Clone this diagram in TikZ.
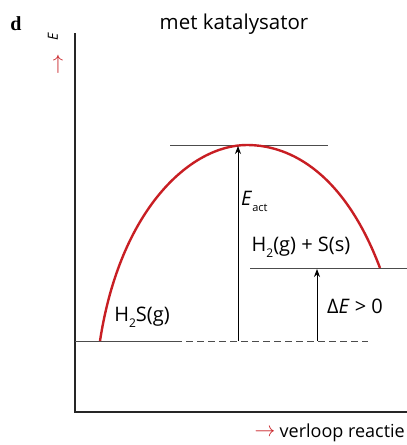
\documentclass[tikz,border=0pt]{standalone}
\usepackage{fontspec}
\setmainfont{Open Sans}
\newfontfamily\letterfont{Liberation Serif}
\usepackage{tikz}
\usetikzlibrary{arrows.meta, positioning}
\definecolor{curvered}{RGB}{200,30,35}

\begin{document}
\begin{tikzpicture}[x=1pt, y=-1pt,
    lbl/.style = {inner sep=0pt, font=\fontsize{20}{22}\selectfont},
    level/.style = {draw=black!70, line width=0.8pt},
    axis/.style = {draw=black!85, line width=1.6pt},
    arrow/.style = {draw=black, line width=0.8pt, -{Stealth[length=8pt, width=6pt]}}
]
\useasboundingbox (0,0) rectangle (407,445);

% Panel letter and title
\node (p_letter) [inner sep=0pt, font=\fontsize{20}{22}\letterfont\bfseries] at (16,24) {d};
\node (p_title) [lbl, font=\fontsize{20.5}{22}\selectfont] at (234,24) {met katalysator};

% Axes
\coordinate (ax_top) at (75,33);
\coordinate (ax_origin) at (75,412);
\coordinate (ax_right) at (407,412);
\draw [axis] (ax_top) -- (ax_origin) -- (ax_right);
\node (ax_e) [inner sep=0pt, rotate=90, font=\fontsize{14}{16}\selectfont\itshape] at (53,37) {E};
\node (ax_up) [inner sep=0pt, text=curvered, font=\fontsize{20}{22}\selectfont] at (58,64) {$\uparrow$};
\node (ax_verloop) [lbl, anchor=east, font=\fontsize{18}{20}\selectfont] at (405,433) {verloop reactie};
\node (ax_right_arr) [inner sep=0pt, text=curvered, font=\fontsize{20}{22}\selectfont, left=4pt of ax_verloop] {$\rightarrow$};

% Energy levels
\coordinate (lv_start) at (75,341);
\coordinate (lv_mid) at (175,341);
\coordinate (lv_end) at (368,341);
\coordinate (lv_top_l) at (170,145);
\coordinate (lv_top_r) at (328,145);
\coordinate (lv_prod_l) at (250,268);
\coordinate (lv_prod_r) at (407,268);
\draw [level] (lv_start) -- (lv_mid);
\draw [level, dashed, dash pattern=on 7pt off 4pt] (lv_mid) -- (lv_end);
\draw [level] (lv_top_l) -- (lv_top_r);
\draw [level] (lv_prod_l) -- (lv_prod_r);

% Reaction curve
\coordinate (c_start) at (100,341);
\coordinate (c_peak) at (247,145);
\coordinate (c_end) at (380,268);
\draw [curvered, line width=2.4pt] (c_start) .. controls (120,210) and (190,145) .. (c_peak)
    .. controls (292,145) and (345,175) .. (c_end);

% Arrows
\coordinate (a_act_bot) at (238,341);
\coordinate (a_act_top) at (238,146);
\coordinate (a_de_bot) at (317,341);
\coordinate (a_de_top) at (317,269);
\draw [arrow] (a_act_bot) -- (a_act_top);
\draw [arrow] (a_de_bot) -- (a_de_top);

% Labels
\node (t_eact) [lbl, anchor=west] at (241,201) {\textit{E}\raisebox{-0.55ex}{\fontsize{11}{12}\selectfont act}};
\node (t_prod) [lbl] at (301,247) {H\raisebox{-0.55ex}{\fontsize{12}{13}\selectfont 2}(g) + S(s)};
\node (t_de) [lbl] at (355,306) {Δ\textit{E} > 0};
\node (t_react) [lbl] at (142,317) {H\raisebox{-0.55ex}{\fontsize{12}{13}\selectfont 2}S(g)};

\end{tikzpicture}
\end{document}
